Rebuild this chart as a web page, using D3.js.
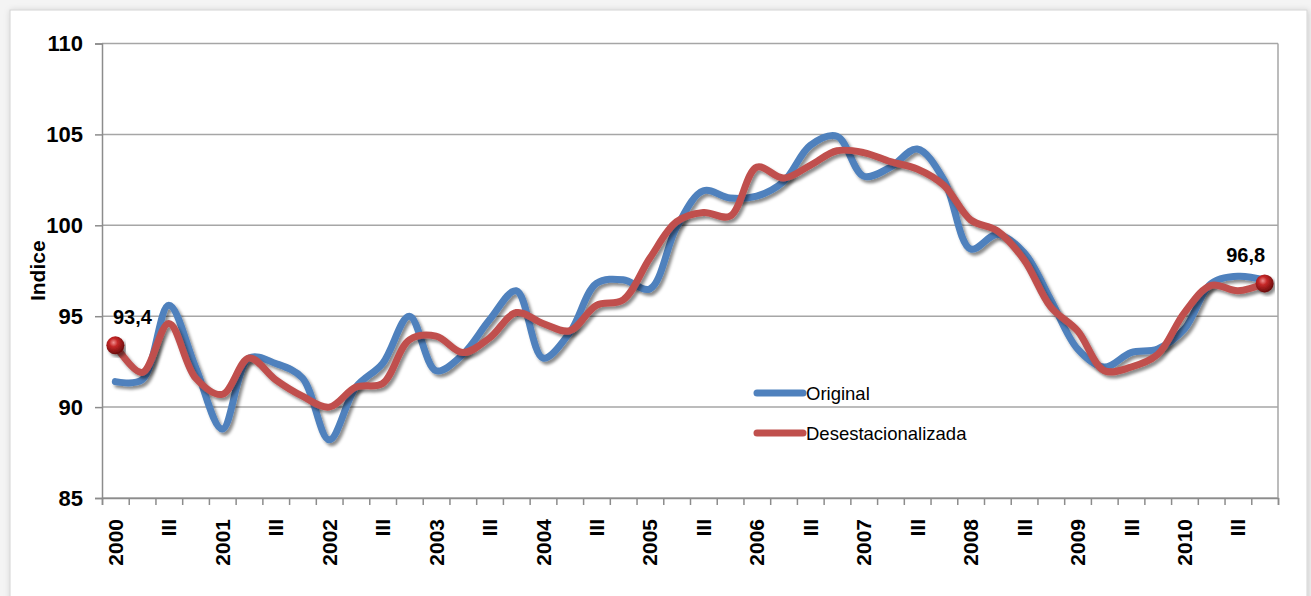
<!DOCTYPE html>
<html>
<head>
<meta charset="utf-8">
<script src="https://cdn.jsdelivr.net/npm/d3@7"></script>
<style>
  body { margin: 0; background: #f4f4f4; }
  svg { display: block; font-family: "Liberation Sans", Arial, sans-serif; }
</style>
</head>
<body>
<svg id="chart" width="1311" height="596"></svg>
<script>
// categories: quarters 2000-I .. 2010-IV
var years = ["2000","2001","2002","2003","2004","2005","2006","2007","2008","2009","2010"];
var quarterNames = ["I","II","III","IV"];

// series values
var original = [91.4, 91.5, 95.6, 92.2, 88.8, 92.7, 92.4, 91.6, 88.2, 91.1, 92.4, 95.0,
                92.0, 92.9, 94.8, 96.4, 92.7, 94.1, 96.8, 97.0, 96.5, 99.9, 101.9, 101.5,
                101.6, 102.4, 104.4, 104.9, 102.7, 103.2, 104.2, 102.5, 98.7, 99.5, 98.5, 95.9,
                93.2, 92.2, 93.0, 93.2, 94.3, 96.8, 97.2, 97.0];
var desest = [93.4, 91.9, 94.6, 91.6, 90.7, 92.7, 91.5, 90.6, 90.0, 91.1, 91.3, 93.7,
              93.9, 93.0, 93.8, 95.2, 94.6, 94.2, 95.6, 95.9, 98.2, 100.2, 100.7, 100.5,
              103.2, 102.6, 103.3, 104.1, 104.0, 103.5, 103.1, 102.2, 100.3, 99.7, 98.1, 95.5,
              94.2, 92.0, 92.2, 92.9, 95.2, 96.7, 96.4, 96.8];
var yTicks = [85, 90, 95, 100, 105, 110];
var seriesNames = ["Original", "Desestacionalizada"];
var seriesColors = ["#4f81bd", "#c0504d"];

var categories = [];
years.forEach(function(y){
  quarterNames.forEach(function(q){ categories.push({year: y, q: q}); });
});

var svg = d3.select("#chart");
var defs = svg.append("defs");

var frameShadow = defs.append("filter").attr("id","frameShadow")
  .attr("x","-5%").attr("y","-5%").attr("width","110%").attr("height","110%");
frameShadow.append("feDropShadow").attr("dx",1).attr("dy",1).attr("stdDeviation",3)
  .attr("flood-color","#000").attr("flood-opacity",0.18);

var lineShadow = defs.append("filter").attr("id","lineShadow")
  .attr("x","-5%").attr("y","-10%").attr("width","110%").attr("height","130%");
lineShadow.append("feDropShadow").attr("dx",2.5).attr("dy",3).attr("stdDeviation",1.8)
  .attr("flood-color","#000").attr("flood-opacity",0.45);

var ball = defs.append("radialGradient").attr("id","ball")
  .attr("cx","40%").attr("cy","35%").attr("r","65%");
ball.append("stop").attr("offset","0%").attr("stop-color","#f09090");
ball.append("stop").attr("offset","35%").attr("stop-color","#c62828");
ball.append("stop").attr("offset","100%").attr("stop-color","#6a0c0c");

// outer frame
svg.append("rect")
  .attr("x",10).attr("y",10).attr("width",1297).attr("height",600)
  .attr("fill","#fff").attr("stroke","#d4d4d4").attr("filter","url(#frameShadow)");

var margin = {top:43.5, right:33, bottom:98, left:102};
var width = 1311 - margin.left - margin.right;
var height = 596 - margin.top - margin.bottom;

var g = svg.append("g").attr("transform","translate("+margin.left+","+margin.top+")");

var x = d3.scaleLinear().domain([0, categories.length]).range([0, width]);
var y = d3.scaleLinear().domain([85, 110]).range([height, 0]);

// gridlines
g.selectAll(".grid")
  .data(yTicks)
  .enter()
  .append("line")
  .attr("x1",0).attr("x2",width)
  .attr("y1",function(d){return y(d)}).attr("y2",function(d){return y(d)})
  .attr("stroke","#a6a6a6").attr("stroke-width",1.5);

// right border of plot area
g.append("line").attr("x1",width).attr("x2",width).attr("y1",0).attr("y2",height)
  .attr("stroke","#a6a6a6").attr("stroke-width",1.5);

// y axis
var yAxis = g.append("g")
  .call(d3.axisLeft(y).tickValues(yTicks).tickSize(7).tickPadding(12));
yAxis.select(".domain").attr("stroke","#8c8c8c").attr("stroke-width",1.5);
yAxis.selectAll(".tick line").attr("stroke","#8c8c8c").attr("stroke-width",1.5);
yAxis.selectAll("text").attr("font-size","22px").attr("font-weight","bold").attr("fill","#000")
  .attr("font-family","'Liberation Sans', Arial, sans-serif");

// x axis tick marks at category boundaries
var xAxis = g.append("g").attr("transform","translate(0,"+height+")")
  .call(d3.axisBottom(x).tickValues(d3.range(0, categories.length + 1)).tickSize(7).tickFormat(""));
xAxis.select(".domain").attr("stroke","#8c8c8c").attr("stroke-width",1.5);
xAxis.selectAll(".tick line").attr("stroke","#8c8c8c").attr("stroke-width",1.5);

// x labels (every other category)
g.selectAll(".xlab")
  .data(categories)
  .enter()
  .filter(function(d,i){ return i % 2 == 0; })
  .append("text")
  .attr("transform", function(d,i){
    var idx = categories.indexOf(d);
    return "translate("+(x(idx+0.5)+7.5)+","+(height+21)+") rotate(-90)";
  })
  .attr("text-anchor","end")
  .attr("font-size","21px").attr("font-weight","bold")
  .text(function(d){ return d.q == "I" ? d.year : d.q; });

// y title
svg.append("text")
  .attr("transform","translate(45,"+(margin.top + height/2)+") rotate(-90)")
  .attr("text-anchor","middle")
  .attr("font-size","21px").attr("font-weight","bold")
  .text("Indice");

// lines
var line = d3.line()
  .x(function(d,i){ return x(i+0.5) })
  .y(function(d){ return y(d) })
  .curve(d3.curveCatmullRom.alpha(0.5));

[original, desest].forEach(function(s, k){
  g.append("path")
    .datum(s)
    .attr("d", line)
    .attr("fill","none")
    .attr("stroke", seriesColors[k])
    .attr("stroke-width",7)
    .attr("stroke-linecap","round")
    .attr("stroke-linejoin","round")
    .attr("filter","url(#lineShadow)");
});

// end markers and labels on the seasonally adjusted series
var ends = [0, desest.length - 1];
g.selectAll(".endDot")
  .data(ends)
  .enter()
  .append("circle")
  .attr("cx", function(i){ return x(i+0.5) })
  .attr("cy", function(i){ return y(desest[i]) })
  .attr("r", 9)
  .attr("fill","url(#ball)")
  .attr("filter","url(#lineShadow)");

g.selectAll(".endLab")
  .data(ends)
  .enter()
  .append("text")
  .attr("x", function(i){ return i == 0 ? x(i+0.5) + 17 : x(i+0.5) - 19 })
  .attr("y", function(i){ return y(desest[i]) - 21 })
  .attr("text-anchor","middle")
  .attr("font-size","20px").attr("font-weight","bold")
  .text(function(i){ return String(desest[i]).replace(".", ",") });

// legend
var legend = svg.append("g").attr("transform","translate(755,393)");
seriesNames.forEach(function(name, k){
  var row = legend.append("g").attr("transform","translate(0,"+(k*40)+")");
  row.append("line").attr("x1",2).attr("x2",48).attr("y1",0).attr("y2",0)
    .attr("stroke",seriesColors[k]).attr("stroke-width",7).attr("stroke-linecap","round");
  row.append("text").attr("x",51).attr("y",7)
    .attr("font-size","18.5px").attr("fill","#000").text(name);
});
</script>
</body>
</html>
